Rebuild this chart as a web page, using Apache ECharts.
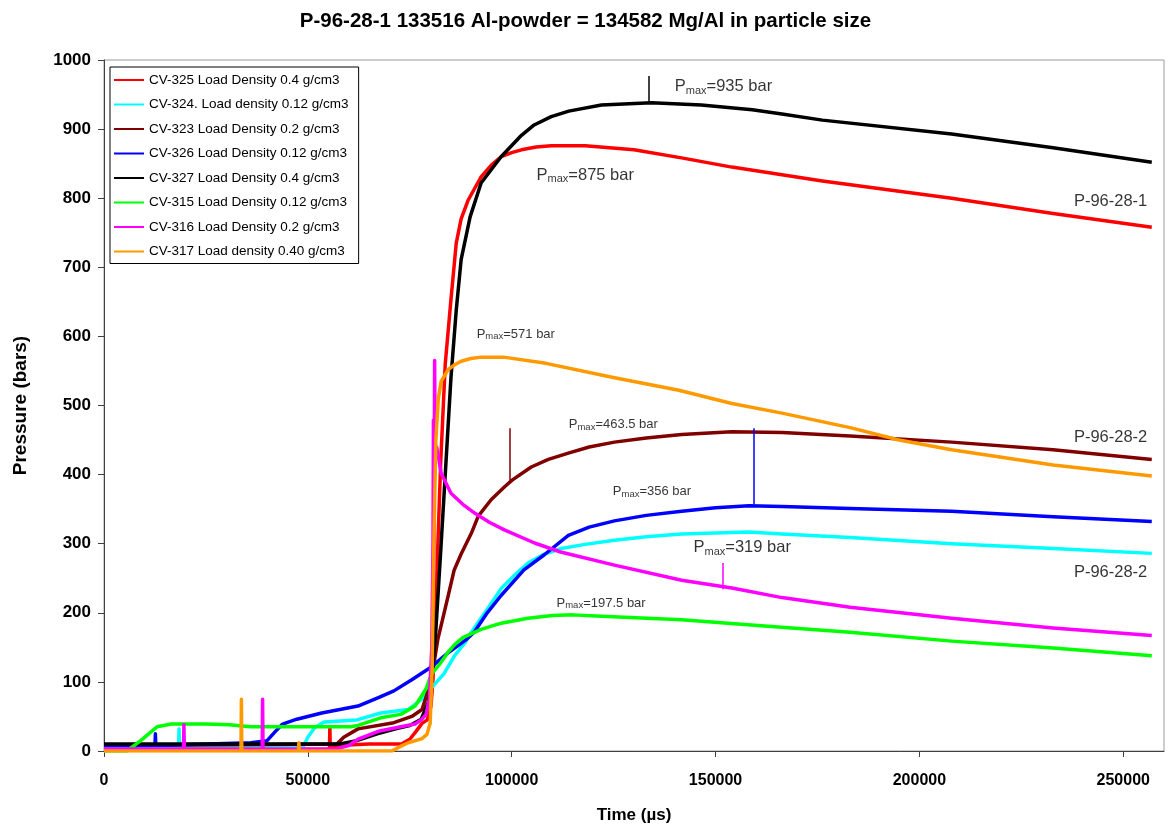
<!DOCTYPE html>
<html><head><meta charset="utf-8">
<script src="https://cdn.jsdelivr.net/npm/echarts@6/dist/echarts.min.js"></script>
<style>html,body{margin:0;padding:0;background:#fff}#c{width:1171px;height:829px}</style>
</head><body><div id="c"></div>
<script>
// ---- data (time in µs, pressure in bar) ----
const seriesNames = [
  'CV-325 Load Density 0.4 g/cm3',
  'CV-324. Load density 0.12 g/cm3',
  'CV-323 Load Density 0.2 g/cm3',
  'CV-326 Load Density 0.12 g/cm3',
  'CV-327 Load Density 0.4 g/cm3',
  'CV-315 Load Density 0.12 g/cm3',
  'CV-316 Load Density 0.2 g/cm3',
  'CV-317 Load density 0.40 g/cm3'
];
const seriesColors = ['#FF0000','#00FFFF','#800000','#0000FF','#000000','#00FF00','#FF00FF','#FF9900'];

const cv325 = [[0,2],[55300,2],[55400,35],[55500,2],[57000,8],[65000,10],[73000,10],[75000,17],[76500,28],[78000,40],[79300,45],[80200,65],[80700,104],[81300,200],[81900,300],[82600,420],[83700,560],[85100,653],[86400,735],[87600,770],[89300,797],[92500,831],[95000,848],[97400,860],[100000,866],[102400,870],[106000,874],[109700,876],[118000,876],[130000,870],[142000,858],[154000,845],[166300,834],[176200,825],[207900,800],[232800,778],[257000,758]];
const cv324 = [[0,6],[18300,6],[18400,32],[18500,6],[49000,8],[50000,20],[51700,34],[54000,42],[62000,45],[67900,55],[74600,60],[78000,75],[80700,94],[83400,112],[86000,138],[88600,157],[90100,172],[94000,205],[97400,235],[101000,256],[104000,272],[108000,285],[112200,293],[118000,299],[125200,305],[133000,310],[141700,314],[158200,317],[166300,314],[183000,309],[207900,300],[232800,293],[257000,286]];
const cv323 = [[0,8],[57100,10],[58800,20],[62300,32],[71100,41],[75500,50],[78000,60],[80200,100],[81900,162],[84400,224],[85900,262],[87600,285],[90100,315],[91800,340],[95000,364],[98200,382],[100100,392],[104800,411],[109000,422],[113900,431],[119000,440],[125200,447],[133000,453],[141700,458],[154000,462],[166300,461],[183000,456],[207900,447],[232800,436],[257000,422]];
const cv326 = [[0,8],[12500,8],[12600,25],[12700,8],[36000,12],[40000,15],[42000,28],[43800,39],[47300,46],[53400,55],[62300,65],[67600,78],[71100,87],[75500,103],[79900,120],[84400,142],[88600,160],[90800,172],[94000,200],[97400,225],[103000,262],[108000,284],[113900,312],[119000,324],[125200,333],[133000,341],[141700,347],[150000,352],[158200,355],[166300,354],[183000,351],[207900,347],[232800,339],[257000,332]];
const cv327 = [[0,10],[57800,10],[62000,15],[67000,25],[72000,33],[75000,37],[77800,46],[79500,70],[80200,95],[80900,140],[81400,175],[82700,300],[83900,420],[85100,540],[86400,638],[87600,711],[89800,773],[92500,822],[97400,860],[102400,891],[105500,906],[109700,918],[114000,926],[122000,935],[134300,938],[146500,935],[159000,928],[166300,922],[176200,913],[207900,893],[232800,873],[257000,852]];
const cv315 = [[0,0],[5600,0],[9000,15],[13000,35],[16500,39],[25000,39],[30700,38],[36000,35],[60500,35],[62300,37],[67900,48],[72800,53],[76300,65],[79000,90],[80200,110],[82500,127],[84400,143],[86000,154],[88000,164],[92500,176],[97400,185],[104000,192],[110000,196],[115000,197],[122000,195],[141700,190],[162000,181],[183000,172],[207900,159],[232800,149],[257000,138]];
const cv316 = [[0,3],[19500,3],[19600,38],[19700,3],[38800,3],[38900,75],[39000,3],[57000,3],[60000,8],[62300,17],[67600,29],[72800,35],[76300,39],[77800,45],[79000,53],[79800,75],[80400,150],[80700,300],[80800,479],[80900,250],[81000,400],[81100,565],[81200,430],[81600,440],[82700,402],[85100,373],[88000,357],[91000,344],[94500,331],[98200,320],[105600,301],[112000,288],[125200,269],[141700,247],[154000,236],[166300,222],[183000,208],[207900,192],[232800,178],[257000,167]];
const cv317 = [[0,0],[33600,0],[33700,75],[33800,0],[47700,0],[47800,12],[47900,0],[70600,0],[72500,6],[74600,12],[78000,18],[79200,24],[80000,40],[80500,120],[80900,300],[81400,450],[82000,510],[82700,535],[84400,552],[86000,559],[87600,564],[90000,568],[92500,570],[98000,570],[108400,561],[124600,541],[141000,522],[154000,503],[166300,489],[183000,468],[195000,450],[207900,436],[232800,414],[257000,398]];
const seriesData = [cv325, cv324, cv323, cv326, cv327, cv315, cv316, cv317];

// Pmax marker ticks: [time, from, to, series index]
const pmaxTicks = [[133600,938,977,4],[99500,392,467,2],[159300,357,467,3],[151700,234,272,6]];
// Annotations: [text value, time, pressure, large?]
const pmaxLabels = [['935',140000,961,true],['875',106100,833,true],['571',91400,603,false],['463.5',114000,472,false],['356',124800,375,false],['319',144600,294,true],['197.5',111000,214,false]];
const groupLabels = [['P-96-28-1',255900,796],['P-96-28-2',255900,454],['P-96-28-2',255900,259]];

const xTicks = [0,50000,100000,150000,200000,250000];

// ---- chart ----
const FONT = '"Liberation Sans", Arial, sans-serif';
const chart = echarts.init(document.getElementById('c'), null, {renderer:'canvas'});
const series = seriesData.map((d,i)=>({
  name: seriesNames[i], type:'line', data:d, symbol:'none', showSymbol:false,
  lineStyle:{color:seriesColors[i], width:3.5, join:'round'}, itemStyle:{color:seriesColors[i]},
  z: 2+i, silent:true
}));
series.push({
  type:'lines', coordinateSystem:'cartesian2d', silent:true, z:20,
  data: pmaxTicks.map(t=>({coords:[[t[0],t[1]],[t[0],t[2]]], lineStyle:{color:seriesColors[t[3]], width:1.5, opacity:1}}))
});
series.push({
  type:'scatter', symbolSize:0, silent:true, z:30,
  data: pmaxLabels.map(a=>({value:[a[1],a[2]], label:{
    show:true, position:'right', distance:0, color:'#000',
    formatter:(a[3]?'{P|P}{S|max}{P|=':'{p|P}{s|max}{p|=')+a[0]+' bar}',
    rich:{
      P:{fontSize:16.5, color:'#000', fontFamily:FONT, lineHeight:19},
      S:{fontSize:11, color:'#000', fontFamily:FONT, verticalAlign:'bottom', lineHeight:12},
      p:{fontSize:13, color:'#000', fontFamily:FONT, lineHeight:15},
      s:{fontSize:9.5, color:'#000', fontFamily:FONT, verticalAlign:'bottom', lineHeight:10}
    }
  }}))
});
series.push({
  type:'scatter', symbolSize:0, silent:true, z:30,
  data: groupLabels.map(a=>({value:[a[1],a[2]], label:{
    show:true, position:'left', distance:0, formatter:a[0],
    fontSize:16.5, color:'#000', fontFamily:FONT
  }}))
});

chart.setOption({
  animation:false,
  backgroundColor:'#fff',
  title:{text:'P-96-28-1 133516 Al-powder = 134582 Mg/Al in particle size', left:'center', top:6,
    textStyle:{fontSize:20.5, fontWeight:'bold', color:'#000', fontFamily:FONT}},
  grid:{left:104, right:7, top:60, bottom:77, show:true, borderColor:'#9a9a9a', borderWidth:1, backgroundColor:'#fff'},
  legend:{
    data:seriesNames, orient:'vertical', left:110, top:67, padding:[6,10,5,4], itemGap:10.5,
    itemWidth:30, itemHeight:2, icon:'rect', borderColor:'#000', borderWidth:1, backgroundColor:'#fff',
    textStyle:{fontSize:13.5, color:'#000', fontFamily:FONT}, selectedMode:false
  },
  xAxis:{type:'value', min:0, max:260000, interval:50000,
    axisLine:{show:true, lineStyle:{color:'#404040', width:1}},
    axisTick:{show:true, length:6, lineStyle:{color:'#404040'}, customValues:xTicks},
    splitLine:{show:false},
    axisLabel:{margin:22, fontSize:16, fontWeight:'bold', color:'#000', fontFamily:FONT,
      customValues:xTicks, formatter:v=>String(v)},
    name:'Time (\u00b5s)', nameLocation:'middle', nameGap:56,
    nameTextStyle:{fontSize:17, fontWeight:'bold', color:'#000', fontFamily:FONT}
  },
  yAxis:{type:'value', min:0, max:1000, interval:100,
    axisLine:{show:true, lineStyle:{color:'#404040', width:1}},
    axisTick:{show:true, length:6, lineStyle:{color:'#404040'}},
    splitLine:{show:false},
    axisLabel:{margin:13, fontSize:17, fontWeight:'bold', color:'#000', fontFamily:FONT, formatter:v=>String(v)},
    name:'Pressure (bars)', nameLocation:'middle', nameGap:74,
    nameTextStyle:{fontSize:19, fontWeight:'bold', color:'#000', fontFamily:FONT}
  },
  series:series
});
</script></body></html>
